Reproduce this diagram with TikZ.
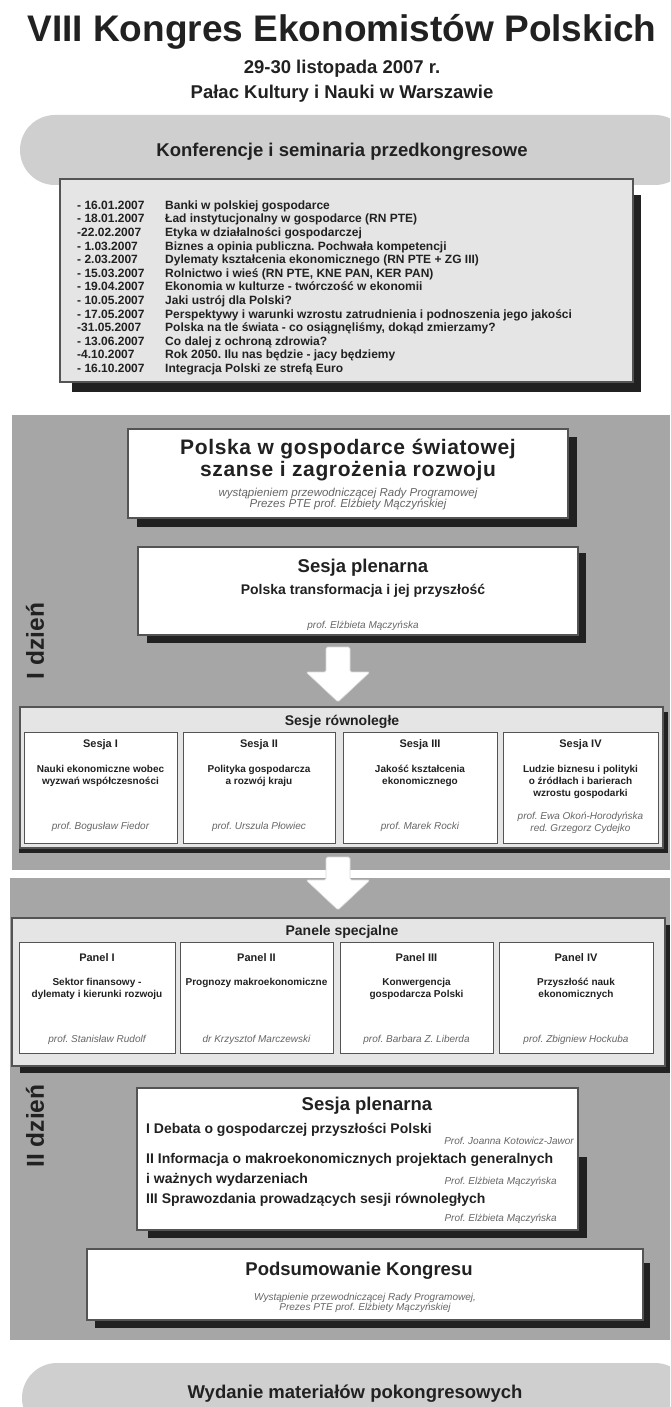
\documentclass[tikz,border=0pt]{standalone}
\usepackage{fontspec}
\setmainfont{Liberation Sans}
\newfontfamily\spacedsans[LetterSpace=3]{Liberation Sans}
\newcommand{\fsz}[2]{\fontsize{#1}{#2}\selectfont}
\definecolor{bandgray}{gray}{0.65}
\definecolor{pillgray}{gray}{0.81}
\definecolor{lightfill}{gray}{0.90}
\definecolor{shadowc}{gray}{0.13}
\definecolor{edgec}{gray}{0.33}
\definecolor{txt}{gray}{0.13}
\definecolor{subtxt}{gray}{0.40}
\frenchspacing
\begin{document}
\frenchspacing
\begin{tikzpicture}[x=1pt,y=-1pt,
  band/.style={fill=bandgray, inner sep=0pt, outer sep=0pt},
  pillnode/.style={fill=pillgray, rounded corners=35pt, inner sep=0pt},
  shadowfill/.style={fill=shadowc},
  whitebox/.style={draw=edgec, line width=1.2pt, fill=white, inner sep=0pt},
  greybox/.style={draw=edgec, line width=1.2pt, fill=lightfill, inner sep=0pt},
  cellbox/.style={draw=edgec, line width=1pt, fill=white, inner sep=0pt},
  lbl/.style={inner sep=0pt, text=txt, align=center},
  subtext/.style={inner sep=0pt, text=subtxt, align=center},
  daylbl/.style={inner sep=0pt, text=txt, rotate=90, font=\bfseries\fsz{24.5}{26}},
  blockarrow/.style={fill=white, draw=white!85!black, line width=0.6pt, rounded corners=1.5pt},
  big/.style={font=\bfseries\fsz{18.5}{20}},
  mid/.style={font=\bfseries\fsz{14}{16}},
  celltitle/.style={font=\bfseries\fsz{11}{13}},
  celldesc/.style={font=\bfseries\fsz{10}{12}},
  cellprof/.style={font=\itshape\fsz{10}{12}}
]
\useasboundingbox (0,0) rectangle (670,1407);
\clip (0,0) rectangle (670,1407);
\fill[white] (0,0) rectangle (670,1407);

% ---------- heading ----------
\node[lbl, anchor=base, font=\bfseries\fsz{37}{40}] (title) at (342,42) {VIII Kongres Ekonomistów Polskich};
\node[lbl, anchor=base, big] (date) at (342,74) {29-30 listopada 2007 r.};
\node[lbl, anchor=base, big] (place) at (342,99) {Pałac Kultury i Nauki w Warszawie};

% ---------- top pill + list ----------
\node[pillnode, minimum width=670pt, minimum height=70pt] (pilltop) at (355,150) {};
\node[lbl, anchor=base, big] (konf) at (342,157) {Konferencje i seminaria przedkongresowe};

\fill[shadowfill] (72,195) rectangle (641,392);
\node[greybox, minimum width=573pt, minimum height=203pt] (listbox) at (346.5,280.5) {};
\node[anchor=north west, inner sep=0pt, text=txt, font=\bfseries\fsz{12}{13.6}] (list) at (77,199.5) {%
\begin{tabular}{@{}p{88pt}@{}l@{}}
- 16.01.2007 & Banki w polskiej gospodarce\\
- 18.01.2007 & Ład instytucjonalny w gospodarce (RN PTE)\\
-22.02.2007 & Etyka w działalności gospodarczej\\
- 1.03.2007 & Biznes a opinia publiczna. Pochwała kompetencji\\
- 2.03.2007 & Dylematy kształcenia ekonomicznego (RN PTE + ZG III)\\
- 15.03.2007 & Rolnictwo i wieś (RN PTE, KNE PAN, KER PAN)\\
- 19.04.2007 & Ekonomia w kulturze - twórczość w ekonomii\\
- 10.05.2007 & Jaki ustrój dla Polski?\\
- 17.05.2007 & Perspektywy i warunki wzrostu zatrudnienia i podnoszenia jego jakości\\
-31.05.2007 & Polska na tle świata - co osiągnęliśmy, dokąd zmierzamy?\\
- 13.06.2007 & Co dalej z ochroną zdrowia?\\
-4.10.2007 & Rok 2050. Ilu nas będzie - jacy będziemy\\
- 16.10.2007 & Integracja Polski ze strefą Euro
\end{tabular}};

% ---------- day bands ----------
\node[band, minimum width=658pt, minimum height=455pt] (day1) at (341,642.5) {};
\node[band, minimum width=660pt, minimum height=462pt] (day2) at (340,1109) {};
\node[daylbl] (day1lbl) at (35,641) {I dzień};
\node[daylbl] (day2lbl) at (35,1126) {II dzień};

% ---------- day I ----------
\fill[shadowfill] (137,437) rectangle (577,527);
\node[whitebox, minimum width=440pt, minimum height=89pt] (polska) at (348,473.5) {};
\node[lbl, anchor=base, font=\spacedsans\bfseries\fsz{21}{22}] (polskaA) at (348,454) {Polska w gospodarce światowej};
\node[lbl, anchor=base, font=\spacedsans\bfseries\fsz{21}{22}] (polskaB) at (348,476) {szanse i zagrożenia rozwoju};
\node[subtext, font=\itshape\fsz{11.5}{11.5}] (polskaC) at (348,499) {wystąpieniem przewodniczącej Rady Programowej\\Prezes PTE prof. Elżbiety Mączyńskiej};

\fill[shadowfill] (147,553) rectangle (586,643);
\node[whitebox, minimum width=440pt, minimum height=88pt] (plen1) at (358,591) {};
\node[lbl, anchor=base, big] (plen1A) at (363,572) {Sesja plenarna};
\node[lbl, anchor=base, mid] (plen1B) at (363,594) {Polska transformacja i jej przyszłość};
\node[subtext, anchor=base, cellprof] (plen1C) at (363,628) {prof. Elżbieta Mączyńska};

% parallel sessions
\fill[shadowfill] (19,712) rectangle (668,853);
\node[greybox, minimum width=643pt, minimum height=141pt] (sesje) at (341.5,777.5) {};
\node[lbl, anchor=base, mid] (sesjeT) at (342,725) {Sesje równoległe};

\node[cellbox, minimum width=153pt, minimum height=111pt] (s1) at (100.5,787.5) {};
\node[cellbox, minimum width=152pt, minimum height=111pt] (s2) at (259,787.5) {};
\node[cellbox, minimum width=154pt, minimum height=111pt] (s3) at (420,787.5) {};
\node[cellbox, minimum width=155pt, minimum height=111pt] (s4) at (580.5,787.5) {};

\node[lbl, anchor=base, celltitle] (s1t) at (100.5,747) {Sesja I};
\node[lbl, celldesc] (s1d) at (100.5,776) {Nauki ekonomiczne wobec\\wyzwań współczesności};
\node[subtext, cellprof] (s1p) at (100.5,827) {prof. Bogusław Fiedor};

\node[lbl, anchor=base, celltitle] (s2t) at (259,747) {Sesja II};
\node[lbl, celldesc] (s2d) at (259,776) {Polityka gospodarcza\\a rozwój kraju};
\node[subtext, cellprof] (s2p) at (259,827) {prof. Urszula Płowiec};

\node[lbl, anchor=base, celltitle] (s3t) at (420,747) {Sesja III};
\node[lbl, celldesc] (s3d) at (420,776) {Jakość kształcenia\\ekonomicznego};
\node[subtext, cellprof] (s3p) at (420,827) {prof. Marek Rocki};

\node[lbl, anchor=base, celltitle] (s4t) at (580.5,747) {Sesja IV};
\node[lbl, celldesc] (s4d) at (580.5,782) {Ludzie biznesu i polityki\\o źródłach i barierach\\wzrostu gospodarki};
\node[subtext, cellprof] (s4p) at (580.5,823) {prof. Ewa Okoń-Horodyńska\\red. Grzegorz Cydejko};

% ---------- day II ----------
\fill[shadowfill] (20,925) rectangle (670,1073);
\node[greybox, minimum width=653pt, minimum height=148pt] (panele) at (338.5,992) {};
\node[lbl, anchor=base, mid] (paneleT) at (342,935) {Panele specjalne};

\node[cellbox, minimum width=156pt, minimum height=111pt] (p1) at (97,997.5) {};
\node[cellbox, minimum width=153pt, minimum height=111pt] (p2) at (256.5,997.5) {};
\node[cellbox, minimum width=153pt, minimum height=111pt] (p3) at (416.5,997.5) {};
\node[cellbox, minimum width=154pt, minimum height=111pt] (p4) at (576,997.5) {};

\node[lbl, anchor=base, celltitle] (p1t) at (97,961) {Panel I};
\node[lbl, celldesc] (p1d) at (97,989) {Sektor finansowy -\\dylematy i kierunki rozwoju};
\node[subtext, cellprof] (p1p) at (97,1040) {prof. Stanisław Rudolf};

\node[lbl, anchor=base, celltitle] (p2t) at (256.5,961) {Panel II};
\node[lbl, celldesc] (p2d) at (256.5,983) {Prognozy makroekonomiczne};
\node[subtext, cellprof] (p2p) at (256.5,1040) {dr Krzysztof Marczewski};

\node[lbl, anchor=base, celltitle] (p3t) at (416.5,961) {Panel III};
\node[lbl, celldesc] (p3d) at (416.5,989) {Konwergencja\\gospodarcza Polski};
\node[subtext, cellprof] (p3p) at (416.5,1040) {prof. Barbara Z. Liberda};

\node[lbl, anchor=base, celltitle] (p4t) at (576,961) {Panel IV};
\node[lbl, celldesc] (p4d) at (576,989) {Przyszłość nauk\\ekonomicznych};
\node[subtext, cellprof] (p4p) at (576,1040) {prof. Zbigniew Hockuba};

% plenary II
\fill[shadowfill] (148,1157) rectangle (587,1238);
\node[whitebox, minimum width=441pt, minimum height=142pt] (plen2) at (357.5,1159) {};
\node[lbl, anchor=base, big] (plen2A) at (367,1110) {Sesja plenarna};
\node[lbl, anchor=base west, mid] (plen2B) at (146,1133) {I Debata o gospodarczej przyszłości Polski};
\node[subtext, anchor=base east, cellprof] (plen2Bp) at (574,1144) {Prof. Joanna Kotowicz-Jawor};
\node[lbl, anchor=base west, mid] (plen2C) at (146,1163) {II Informacja o makroekonomicznych projektach generalnych};
\node[lbl, anchor=base west, mid] (plen2D) at (146,1183) {i ważnych wydarzeniach};
\node[subtext, anchor=base east, cellprof] (plen2Dp) at (557,1184) {Prof. Elżbieta Mączyńska};
\node[lbl, anchor=base west, mid] (plen2E) at (146,1203) {III Sprawozdania prowadzących sesji równoległych};
\node[subtext, anchor=base east, cellprof] (plen2Ep) at (557,1221) {Prof. Elżbieta Mączyńska};

% summary
\fill[shadowfill] (95,1263) rectangle (650,1328);
\node[whitebox, minimum width=556pt, minimum height=71pt] (podsum) at (365,1284.5) {};
\node[lbl, anchor=base, big] (podsumA) at (359,1275) {Podsumowanie Kongresu};
\node[subtext, font=\itshape\fsz{10}{10.5}] (podsumB) at (365,1303) {Wystąpienie przewodniczącej Rady Programowej,\\Prezes PTE prof. Elżbiety Mączyńskiej};

% ---------- block arrows ----------
\path[blockarrow] (326,647) -- (350,647) -- (350,672) -- (370,672) -- (338,702) -- (306,672) -- (326,672) -- cycle;
\path[blockarrow] (326,857) -- (350,857) -- (350,880) -- (370,880) -- (338,910) -- (306,880) -- (326,880) -- cycle;

% ---------- bottom pill ----------
\node[pillnode, minimum width=668pt, minimum height=70pt] (pillbot) at (356,1398) {};
\node[lbl, anchor=base, big] (wyd) at (355,1398) {Wydanie materiałów pokongresowych};
\end{tikzpicture}
\end{document}
